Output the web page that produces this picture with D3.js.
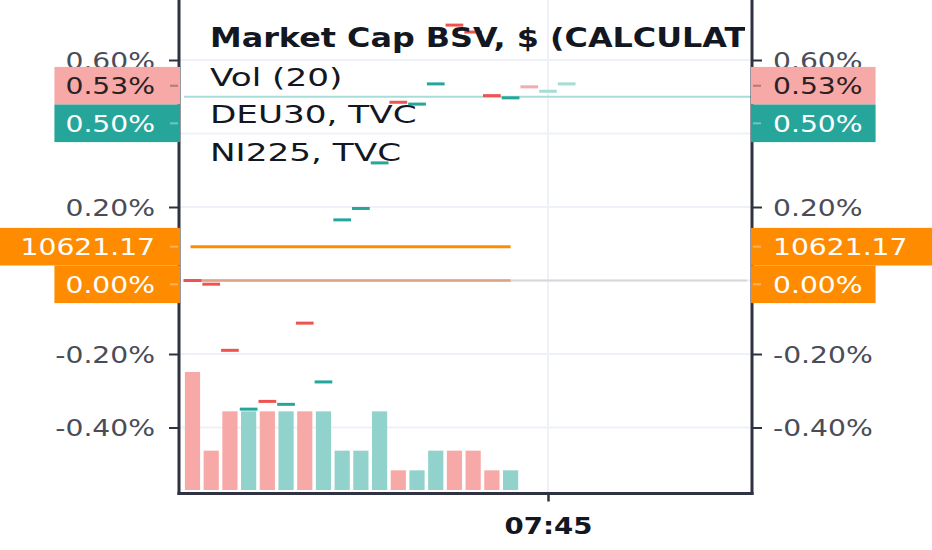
<!DOCTYPE html>
<html><head><meta charset="utf-8">
<script src="https://cdn.jsdelivr.net/npm/d3@7"></script>
<style>html,body{margin:0;padding:0;background:#fff;overflow:hidden}</style>
</head><body><svg id="c" width="932" height="550"></svg>
<script>
// ---------- data ----------
const times = ["07:26","07:27","07:28","07:29","07:30","07:31","07:32","07:33","07:34","07:35","07:36","07:37","07:38","07:39","07:40","07:41","07:42","07:43","07:44","07:45","07:46"];
const closes = [0.000,-0.010,-0.190,-0.350,-0.329,-0.337,-0.116,-0.276,0.165,0.196,0.320,0.485,0.480,0.535,0.695,0.676,0.503,0.497,0.527,0.515,0.535];
const directions = ["down","down","down","up","down","up","down","up","up","up","up","down","up","up","down","down","down","up","down","up","up"];
const volumes = [6,2,4,4,4,4,4,4,2,2,4,1,1,2,2,2,1,1];
const confirmed = [1,1,1,1,1,1,1,1,1,1,1,1,1,1,1,1,1,1,0,0,0];
const deu30Pct = 0.092, deu30Price = "10621.17";
const ni225Pct = 0.0;
const lastUp = 0.50, lastDown = 0.53;
const yTicks = [-0.4,-0.2,0,0.2,0.4,0.6];
const xTicks = ["07:45"];
const legendItems = ["Market Cap BSV, $ (CALCULATED)","Vol (20)","DEU30, TVC","NI225, TVC"];

// ---------- layout ----------
const L = 179, R = 752, B = 493.5;
const FONT = "'DejaVu Sans', sans-serif";
const SX = 1.2;
const svg = d3.select("#c");
const parse = d3.timeParse("%H:%M");
const x = d3.scaleTime().domain([parse("07:26"), parse("07:45")]).range([192.5, 548]);
const y = d3.scaleLinear().domain([0, 0.6]).range([280.5, 60]);
const vy = d3.scaleLinear().domain([0, 6]).range([490, 372]);
const step = x(parse("07:27")) - x(parse("07:26"));
const RED = "#ef5350", TEAL = "#26a69a", ORANGE = "#ff8c00";
const fmt = d => d.toFixed(2) + "%";

// gridlines
svg.append("g").selectAll("line").data(yTicks).join("line")
  .attr("x1", L).attr("x2", R).attr("y1", d => y(d)).attr("y2", d => y(d))
  .attr("stroke", "#eef1f7").attr("stroke-width", 2);
svg.append("g").selectAll("line").data(xTicks).join("line")
  .attr("x1", d => x(parse(d))).attr("x2", d => x(parse(d))).attr("y1", 0).attr("y2", B)
  .attr("stroke", "#eef1f7").attr("stroke-width", 2);

// volume bars
svg.append("g").selectAll("rect").data(volumes).join("rect")
  .attr("x", (d, i) => x(parse(times[i])) - 7.6).attr("width", 15.2)
  .attr("y", d => vy(d)).attr("height", d => vy(0) - vy(d))
  .attr("fill", (d, i) => directions[i] === "up" ? "#92d2cc" : "#f7a9a7");

// zero line (grey)
svg.append("line").attr("x1", L + 4).attr("x2", R - 5).attr("y1", y(0)).attr("y2", y(0))
  .attr("stroke", "#d6d8de").attr("stroke-width", 2);

// comparison lines
const cmpX1 = x(parse(times[0])) - 2, cmpX2 = x(parse(times[volumes.length - 1]));
svg.append("line").attr("x1", cmpX1).attr("x2", cmpX2).attr("y1", y(ni225Pct)).attr("y2", y(ni225Pct))
  .attr("stroke", "#dfa285").attr("stroke-width", 2.5);
svg.append("line").attr("x1", cmpX1).attr("x2", cmpX2).attr("y1", y(deu30Pct)).attr("y2", y(deu30Pct))
  .attr("stroke", ORANGE).attr("stroke-width", 3);

// last price line
svg.append("line").attr("x1", L + 5).attr("x2", R).attr("y1", y(lastUp)).attr("y2", y(lastUp))
  .attr("stroke", "#a9ddd8").attr("stroke-width", 2);

// dashes
svg.append("g").selectAll("line").data(closes).join("line")
  .attr("x1", (d, i) => x(parse(times[i])) - step / 2 + 0.5)
  .attr("x2", (d, i) => x(parse(times[i])) + step / 2 - 0.5)
  .attr("y1", d => y(d)).attr("y2", d => y(d))
  .attr("stroke", (d, i) => directions[i] === "up" ? (confirmed[i] ? TEAL : "#a6dcd6") : (confirmed[i] ? RED : "#f7aaa8"))
  .attr("stroke-width", 3);

// legend
svg.append("clipPath").attr("id", "lc").append("rect").attr("x", L).attr("y", 0).attr("width", 745 - L).attr("height", B);
const lg = svg.append("g").attr("clip-path", "url(#lc)");
legendItems.forEach((t, i) => {
  lg.append("text").text(t)
    .attr("transform", `translate(210,${i === 0 ? 47 : 86 + (i - 1) * 37.3}) scale(${i === 0 ? 1.225 : 1.37},1)`)
    .attr("font-family", FONT).attr("font-size", i === 0 ? 26 : 25)
    .attr("font-weight", i === 0 ? "bold" : "normal").attr("fill", "#131722");
});

// axes
function fixText(sel) {
  sel.selectAll("text").each(function () {
    const tx = +this.getAttribute("x");
    d3.select(this).attr("x", 0).attr("transform", `translate(${tx},0) scale(${SX},1)`);
  });
}
// tick labels fully covered by a price label are not drawn (value shown in the label)
const coveredTicks = [ni225Pct];
const tickFmt = d => coveredTicks.includes(d) ? "" : fmt(d);
const la = svg.append("g").attr("transform", `translate(${L},0)`)
  .call(d3.axisLeft(y).tickValues(yTicks).tickSize(10).tickPadding(14).tickFormat(tickFmt));
const ra = svg.append("g").attr("transform", `translate(${R},0)`)
  .call(d3.axisRight(y).tickValues(yTicks).tickSize(10).tickPadding(11).tickFormat(tickFmt));
[la, ra].forEach(a => {
  a.select(".domain").remove();
  a.selectAll("line").attr("stroke", "#2f3241").attr("stroke-width", 2);
  a.selectAll("text").attr("font-family", FONT).attr("font-size", 23.5).attr("fill", "#4a4d57").attr("dy", "0.36em");
  fixText(a);
});
const xa = svg.append("g").attr("transform", `translate(0,${B})`)
  .call(d3.axisBottom(x).tickValues(xTicks.map(parse)).tickSize(8).tickPadding(16).tickFormat(d3.timeFormat("%H:%M")));
xa.select(".domain").remove();
xa.selectAll("line").attr("stroke", "#2f3241").attr("stroke-width", 2.5);
xa.selectAll("text").attr("font-family", FONT).attr("font-size", 23).attr("font-weight", "bold").attr("fill", "#131722").attr("dy", "0.71em");
fixText(xa);

// axis lines
svg.append("line").attr("x1", L).attr("x2", L).attr("y1", 0).attr("y2", B + 1.5).attr("stroke", "#2f3241").attr("stroke-width", 3);
svg.append("line").attr("x1", R).attr("x2", R).attr("y1", 0).attr("y2", B + 1.5).attr("stroke", "#2f3241").attr("stroke-width", 3);
svg.append("line").attr("x1", L - 1.5).attr("x2", R + 1.5).attr("y1", B).attr("y2", B).attr("stroke", "#2f3241").attr("stroke-width", 3);

// price labels
const labels = [
  {text: fmt(lastDown), v: lastDown, bg: "#f7a9a7", fg: "#2a2124"},
  {text: fmt(lastUp), v: lastUp, bg: TEAL, fg: "#ffffff"},
  {text: deu30Price, v: deu30Pct, bg: ORANGE, fg: "#ffffff"},
  {text: fmt(ni225Pct), v: ni225Pct, bg: ORANGE, fg: "#ffffff"}
];
const H = 37.6;
let prevBottom = -Infinity;
labels.forEach(l => {
  let c = y(l.v);
  if (c - H / 2 < prevBottom) c = prevBottom + H / 2;
  l.c = c; prevBottom = c + H / 2;
});
labels.forEach(l => {
  [-1, 1].forEach(side => {
    const g = svg.append("g");
    const t = g.append("text").text(l.text).attr("font-family", FONT).attr("font-size", 23.5).attr("fill", l.fg).attr("dy", "0.36em");
    const w = t.node().getComputedTextLength() * SX;
    let bx, bw;
    if (side < 0) {
      bx = L + 1 - (w + 36);
      if (bx < 25) bx = 0;
      bw = L + 1 - bx;
    } else {
      bx = R - 1;
      bw = w + 35;
      if (bx + bw > 905) bw = 932 - bx;
    }
    g.insert("rect", "text").attr("x", bx).attr("y", l.c - H / 2).attr("width", bw).attr("height", H).attr("fill", l.bg);
    g.append("line").attr("x1", side < 0 ? L - 9 : R + 1).attr("x2", side < 0 ? L - 1 : R + 9)
      .attr("y1", l.c).attr("y2", l.c).attr("stroke", l.fg).attr("stroke-opacity", 0.35).attr("stroke-width", 2);
    if (side < 0) t.attr("text-anchor", "end").attr("transform", `translate(${L - 24},${l.c}) scale(${SX},1)`);
    else t.attr("text-anchor", "start").attr("transform", `translate(${R + 21},${l.c}) scale(${SX},1)`);
    t.raise();
  });
});
</script></body></html>
